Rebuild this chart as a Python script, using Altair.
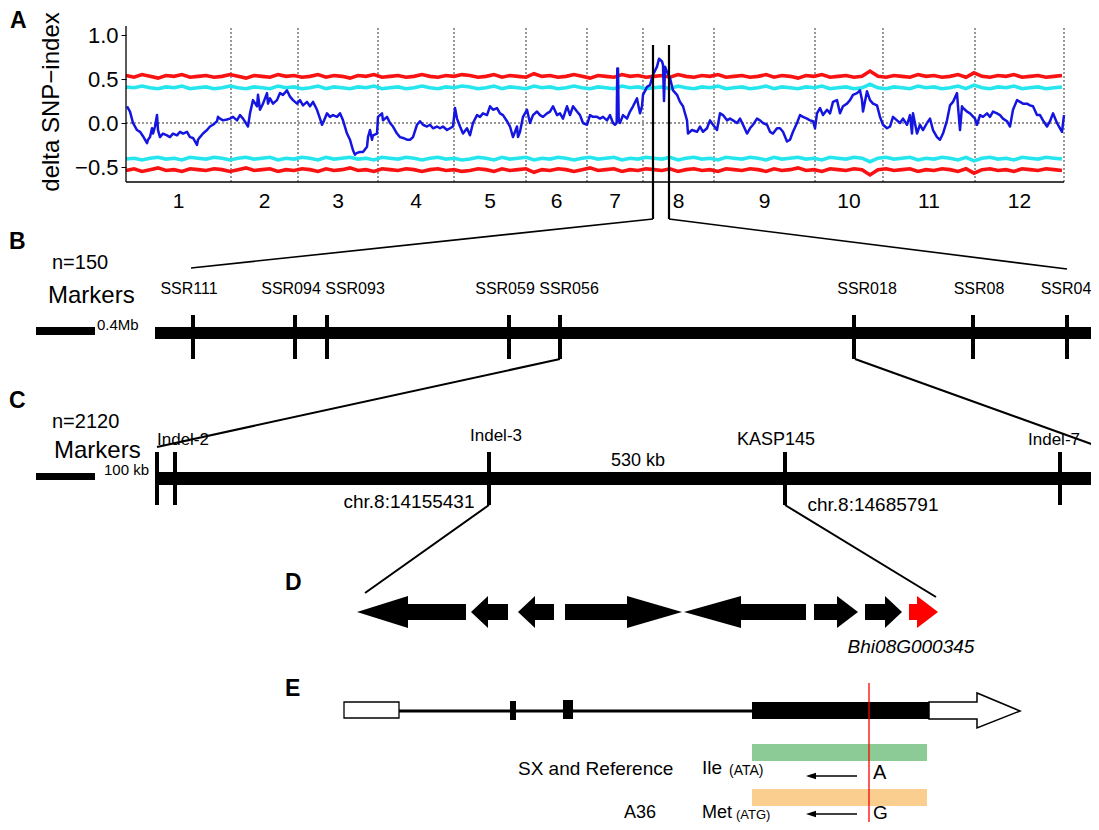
import altair as alt
import pandas as pd

FONT = "Liberation Sans"

# ============ Panel A data (delta SNP-index) ============
chrom_names = ["1", "2", "3", "4", "5", "6", "7", "8", "9", "10", "11", "12"]
chrom_len_mb = [105, 67, 80, 76, 72, 61, 56, 71, 101, 68, 92, 89]

# (cumulative position in Mb, delta SNP-index)
delta_snp_index = [
    (1, 0.19), (4, 0.13), (7, 0.00), (11, -0.08), (14, -0.10), (17, -0.15), (21, -0.23), (22, -0.19),
    (24, -0.16), (26, -0.06), (27, -0.12), (29, -0.04), (31, 0.09), (32, -0.08), (34, -0.16), (37, -0.12),
    (41, -0.14), (44, -0.16), (47, -0.12), (51, -0.14), (54, -0.10), (57, -0.12), (61, -0.10), (64, -0.16),
    (67, -0.17), (71, -0.25), (72, -0.19), (74, -0.16), (77, -0.12), (81, -0.08), (84, -0.04), (87, -0.02),
    (91, 0.02), (92, 0.07), (94, 0.05), (97, 0.03), (101, 0.04), (104, 0.05), (107, 0.07), (111, 0.03),
    (114, 0.09), (117, 0.05), (121, -0.02), (122, -0.04), (124, 0.11), (127, 0.26), (131, 0.19), (132, 0.32),
    (134, 0.15), (137, 0.22), (141, 0.34), (142, 0.22), (144, 0.28), (147, 0.22), (151, 0.26), (154, 0.34),
    (157, 0.32), (161, 0.37), (164, 0.30), (167, 0.26), (171, 0.22), (174, 0.26), (177, 0.20), (181, 0.24),
    (184, 0.19), (187, 0.24), (191, 0.15), (194, 0.05), (196, -0.02), (197, 0.00), (201, 0.11), (204, 0.07),
    (207, 0.09), (211, 0.07), (214, 0.11), (217, 0.03), (221, -0.12), (224, -0.19), (227, -0.31), (229, -0.36),
    (231, -0.34), (234, -0.33), (237, -0.33), (241, -0.27), (242, -0.16), (244, -0.08), (246, -0.19), (247, -0.14),
    (251, -0.12), (252, 0.07), (256, 0.11), (257, 0.03), (261, 0.07), (264, 0.00), (267, -0.04), (271, -0.12),
    (274, -0.16), (277, -0.17), (281, -0.19), (284, -0.19), (287, -0.16), (291, -0.02), (294, 0.02), (297, -0.02),
    (301, -0.04), (304, -0.02), (307, -0.06), (311, -0.04), (314, -0.06), (317, -0.04), (321, -0.08), (324, -0.06),
    (327, -0.04), (329, 0.17), (331, 0.05), (334, -0.04), (337, -0.12), (341, -0.06), (344, -0.14), (347, 0.00),
    (351, 0.09), (354, 0.07), (357, 0.11), (361, 0.09), (364, 0.19), (367, 0.15), (371, 0.17), (374, 0.11),
    (377, 0.09), (381, 0.02), (384, -0.04), (387, -0.16), (391, -0.04), (392, -0.16), (394, -0.10), (397, 0.07),
    (401, 0.15), (404, 0.00), (407, 0.09), (411, 0.13), (414, 0.09), (417, 0.07), (421, 0.11), (424, 0.13),
    (427, 0.19), (431, 0.09), (434, 0.11), (437, 0.05), (441, 0.19), (444, 0.09), (447, 0.19), (451, 0.13),
    (454, 0.09), (457, 0.00), (461, -0.02), (464, 0.09), (467, 0.07), (471, 0.07), (474, 0.05), (477, 0.07),
    (481, 0.03), (484, 0.09), (487, 0.00), (489, -0.02), (490.7, 0.00), (491.3, 0.62), (492, 0.62), (492.7, 0.03),
    (494, 0.00), (497, 0.09), (501, 0.05), (504, 0.13), (507, 0.19), (511, 0.28), (512, 0.22), (514, 0.11),
    (516, 0.19), (517, 0.32), (521, 0.41), (524, 0.43), (527, 0.55), (531, 0.64), (533, 0.73), (536, 0.70),
    (537, 0.66), (538, 0.25), (539, 0.64), (541, 0.58), (544, 0.51), (547, 0.37), (551, 0.32), (554, 0.24),
    (557, 0.19), (561, 0.03), (562, -0.12), (566, -0.08), (571, -0.10), (574, -0.04), (577, -0.10), (581, -0.06),
    (584, 0.03), (587, -0.02), (591, -0.08), (594, 0.11), (597, 0.09), (601, 0.03), (604, 0.05), (607, 0.03),
    (611, 0.00), (614, 0.05), (617, -0.02), (621, -0.12), (624, -0.06), (627, -0.02), (631, 0.05), (634, 0.03),
    (637, 0.00), (641, -0.02), (644, -0.10), (647, -0.12), (651, -0.06), (654, -0.06), (657, -0.10), (661, -0.21),
    (664, -0.19), (667, -0.10), (671, 0.00), (674, 0.09), (677, 0.07), (681, 0.05), (684, 0.03), (687, 0.02),
    (689, -0.06), (691, 0.11), (694, 0.17), (697, 0.09), (701, 0.15), (704, 0.11), (707, 0.24), (711, 0.26),
    (714, 0.11), (717, 0.19), (721, 0.22), (724, 0.26), (727, 0.32), (731, 0.34), (734, 0.37), (736, 0.26),
    (737, 0.13), (741, 0.36), (744, 0.26), (747, 0.22), (751, 0.20), (754, 0.07), (757, -0.02), (761, -0.06),
    (764, -0.04), (767, 0.07), (771, 0.03), (774, 0.00), (777, 0.05), (781, -0.02), (784, 0.09), (786, -0.12),
    (787, 0.11), (791, -0.12), (794, -0.02), (797, -0.08), (801, 0.00), (804, 0.05), (807, -0.08), (811, -0.16),
    (814, -0.19), (817, -0.12), (821, 0.03), (824, 0.20), (827, 0.24), (831, 0.34), (832, 0.19), (834, -0.08),
    (836, 0.19), (837, 0.17), (841, 0.13), (844, 0.11), (849, 0.05), (851, -0.02), (854, 0.09), (857, 0.07),
    (861, 0.11), (864, 0.07), (867, 0.13), (871, 0.11), (874, 0.09), (877, 0.05), (881, 0.02), (884, -0.04),
    (887, 0.15), (891, 0.26), (894, 0.24), (897, 0.22), (901, 0.22), (904, 0.20), (907, 0.19), (911, 0.09),
    (914, 0.09), (917, 0.03), (921, -0.04), (924, 0.02), (927, 0.11), (931, 0.00), (934, -0.06), (936, -0.10),
    (938, 0.09),
]

# confidence thresholds (upper side; the lower side is the mirror), sampled every 8 Mb
ci_step_mb = 8
ci99_upper = [  # red
    0.54, 0.52, 0.55, 0.53, 0.51, 0.54, 0.53, 0.55, 0.52, 0.53,
    0.54, 0.52, 0.53, 0.55, 0.53, 0.51, 0.54, 0.53, 0.52, 0.55,
    0.53, 0.54, 0.52, 0.53, 0.55, 0.52, 0.54, 0.53, 0.51, 0.54,
    0.53, 0.55, 0.52, 0.53, 0.54, 0.52, 0.53, 0.55, 0.53, 0.52,
    0.54, 0.53, 0.55, 0.54, 0.52, 0.53, 0.55, 0.52, 0.54, 0.53,
    0.52, 0.56, 0.53, 0.54, 0.52, 0.53, 0.55, 0.53, 0.51, 0.54,
    0.53, 0.52, 0.55, 0.53, 0.54, 0.52, 0.53, 0.54, 0.52, 0.55,
    0.53, 0.52, 0.54, 0.53, 0.55, 0.52, 0.53, 0.54, 0.52, 0.53,
    0.55, 0.52, 0.54, 0.53, 0.51, 0.54, 0.53, 0.55, 0.52, 0.53,
    0.54, 0.52, 0.53, 0.59, 0.53, 0.52, 0.54, 0.53, 0.52, 0.55,
    0.53, 0.54, 0.52, 0.53, 0.55, 0.52, 0.57, 0.53, 0.52, 0.54,
    0.53, 0.55, 0.52, 0.53, 0.54, 0.52, 0.53, 0.54,
]
ci95_upper = [  # cyan
    0.41, 0.40, 0.42, 0.40, 0.39, 0.41, 0.40, 0.42, 0.39, 0.40,
    0.41, 0.39, 0.40, 0.42, 0.40, 0.39, 0.41, 0.40, 0.39, 0.42,
    0.40, 0.41, 0.39, 0.40, 0.42, 0.39, 0.41, 0.40, 0.39, 0.41,
    0.40, 0.42, 0.39, 0.40, 0.41, 0.39, 0.40, 0.42, 0.40, 0.39,
    0.41, 0.40, 0.42, 0.41, 0.39, 0.40, 0.42, 0.39, 0.41, 0.40,
    0.39, 0.42, 0.40, 0.41, 0.39, 0.40, 0.42, 0.40, 0.39, 0.41,
    0.40, 0.39, 0.42, 0.40, 0.41, 0.39, 0.40, 0.41, 0.39, 0.42,
    0.40, 0.39, 0.41, 0.40, 0.42, 0.39, 0.40, 0.41, 0.39, 0.40,
    0.42, 0.39, 0.41, 0.40, 0.39, 0.41, 0.40, 0.42, 0.39, 0.40,
    0.41, 0.39, 0.40, 0.44, 0.40, 0.39, 0.41, 0.40, 0.39, 0.42,
    0.40, 0.41, 0.39, 0.40, 0.42, 0.39, 0.43, 0.40, 0.39, 0.41,
    0.40, 0.42, 0.39, 0.40, 0.41, 0.39, 0.40, 0.41,
]
y_ticks = [-0.5, 0.0, 0.5, 1.0]
qtl_window_mb = [527, 543]

# ============ Panel B / C / D / E data (map units of the schematic) ============
b_markers = ["SSR111", "SSR094", "SSR093", "SSR059", "SSR056", "SSR018", "SSR08", "SSR04"]
b_marker_pos = [193, 295, 327, 509, 560, 854, 973, 1067]
b_label_pos = [189, 291, 355, 505, 569, 867, 979, 1066]
b_span = [155, 1097]

c_marker_pos = [157, 175, 489, 785, 1060, 1096]
c_labels = ["Indel-3", "KASP145", "Indel-7"]
c_label_pos = [496, 776, 1054]
c_span = [157, 1097]
c_coords = ["chr.8:14155431", "chr.8:14685791"]

# genes in D: (tail, head base, tip, colour)
d_genes = [
    (466, 408, 357, "black"), (508, 488, 471, "black"), (554, 535, 518, "black"),
    (565, 627, 682, "black"), (806, 741, 684, "black"), (814, 837, 858, "black"),
    (865, 885, 902, "black"), (909, 917, 938, "#ff0000"),
]
d_gene_name = "Bhi08G000345"

# gene model E
e_utr5 = [344, 399]
e_exons = [(510, 516), (563, 573)]
e_cds = [752, 929]
e_utr3 = [929, 977, 1020]
e_snp = 869

# ============ layout constants ============
W, H, M = 1083, 814, 8
A_X0, A_PX_PER_MB = 126, 1.0
A_Y0, A_PX_PER_UNIT = 123, 88.0
A_TOP, A_BOTTOM, A_LABEL = 26, 182, 202


def a_val(px):
    return (A_Y0 - px) / A_PX_PER_UNIT


def a_px(mb):
    return A_X0 + mb * A_PX_PER_MB


XA = alt.Scale(domain=[(M - A_X0) / A_PX_PER_MB, (M + W - A_X0) / A_PX_PER_MB], nice=False, zero=False)
YA = alt.Scale(domain=[a_val(M + H), a_val(M)], nice=False, zero=False)
DX = alt.Scale(domain=[M, M + W], nice=False, zero=False)
DY = alt.Scale(domain=[M, M + H], reverse=True, nice=False, zero=False)

BLUE, RED, CYAN = "#1515e0", "#f81212", "#25e6ee"

Y_AXIS = alt.Axis(values=y_ticks, format=".1f", offset=-(A_X0 - M), domain=False, grid=False,
                  tickSize=5, tickColor="black", tickWidth=1, labelFontSize=22, labelFont=FONT,
                  labelColor="black", labelPadding=3, title=None)

# ---------------- Panel A ----------------
bounds = [0]
for L in chrom_len_mb:
    bounds.append(bounds[-1] + L)
total = bounds[-1]
centers = [(bounds[i] + bounds[i + 1]) / 2 for i in range(12)]

grid_df = pd.DataFrame({"pos": bounds[1:], "y1": a_val(A_BOTTOM), "y2": a_val(A_TOP)})
zero_df = pd.DataFrame({"x1": [0], "x2": [total], "y": [0.0]})
delta_df = pd.DataFrame(delta_snp_index, columns=["pos", "val"])

rows = []
for i, (r, c) in enumerate(zip(ci99_upper, ci95_upper)):
    p = i * ci_step_mb
    rows += [(p, r, "r_hi", RED), (p, -r, "r_lo", RED), (p, c, "c_hi", CYAN), (p, -c, "c_lo", CYAN)]
ci_df = pd.DataFrame(rows, columns=["pos", "val", "series", "color"])

lab_df = pd.DataFrame({"pos": centers, "name": chrom_names, "y": a_val(A_LABEL)})

ax = lambda f: alt.X(f, scale=XA, axis=None)
ay = lambda f: alt.Y(f, scale=YA, axis=Y_AXIS)

grid = alt.Chart(grid_df).mark_rule(color="#333333", strokeWidth=1, strokeDash=[2, 2]).encode(
    x=ax("pos:Q"), y=ay("y1:Q"), y2="y2:Q")
zero = alt.Chart(zero_df).mark_rule(color="#333333", strokeWidth=1, strokeDash=[2, 2]).encode(
    x=ax("x1:Q"), x2="x2:Q", y=ay("y:Q"))
ci = alt.Chart(ci_df).mark_line(strokeWidth=3.6).encode(
    x=ax("pos:Q"), y=ay("val:Q"), detail="series:N", stroke=alt.Stroke("color:N", scale=None))
blue = alt.Chart(delta_df).mark_line(color=BLUE, strokeWidth=2.5, strokeJoin="round").encode(
    x=ax("pos:Q"), y=ay("val:Q"))
axis_df = pd.DataFrame({"x1": [0, 0], "x2": [0, total], "y1": [a_val(A_BOTTOM), a_val(A_BOTTOM)],
                        "y2": [a_val(A_TOP), a_val(A_BOTTOM)]})
axes = alt.Chart(axis_df).mark_rule(color="black", strokeWidth=1.3).encode(
    x=ax("x1:Q"), x2="x2:Q", y=ay("y1:Q"), y2="y2:Q")
chrom_lab = alt.Chart(lab_df).mark_text(font=FONT, fontSize=21, color="black", baseline="middle").encode(
    x=ax("pos:Q"), y=ay("y:Q"), text="name:N")

panel_a = alt.layer(grid, zero, ci, blue, axes, chrom_lab)

# ---------------- Diagram (B-E) ----------------
rects = []  # x1, x2, y1, y2, fill, stroke, sw
rects.append((36, 95, 327, 335, "black", "transparent", 0))
rects.append((b_span[0], b_span[1], 327, 339, "black", "transparent", 0))
rects.append((36, 95, 473, 480, "black", "transparent", 0))
rects.append((c_span[0], c_span[1], 472, 485, "black", "transparent", 0))
rects.append((e_utr5[0], e_utr5[1], 702, 718, "white", "black", 1.3))
rects.append((e_exons[0][0], e_exons[0][1], 701, 720, "black", "transparent", 0))
rects.append((e_exons[1][0], e_exons[1][1], 700, 719, "black", "transparent", 0))
rects.append((e_cds[0], e_cds[1], 702, 719, "black", "transparent", 0))
rects.append((752, 927, 744, 761, "#8cca96", "transparent", 0))
rects.append((752, 927, 789, 806, "#f9ce8e", "transparent", 0))
rect_df = pd.DataFrame(rects, columns=["x1", "x2", "y1", "y2", "fill", "stroke", "sw"])

segs = []  # x1, y1, x2, y2, width, color
for p in qtl_window_mb:
    segs.append((a_px(p), 45, a_px(p), 219, 2.2, "black"))
segs.append((a_px(qtl_window_mb[0]), 219, 191, 268, 1.6, "black"))
segs.append((a_px(qtl_window_mb[1]), 219, 1067, 269, 1.6, "black"))
for p in b_marker_pos:
    segs.append((p, 315, p, 359, 4, "black"))
for p in c_marker_pos:
    segs.append((p, 452, p, 505, 4, "black"))
segs.append((560, 359, 157, 447, 2, "black"))
segs.append((855, 359, 1097, 446, 2, "black"))
segs.append((489, 505, 365, 593, 2, "black"))
segs.append((785, 505, 936, 597, 2, "black"))
segs.append((e_utr5[1], 711, e_cds[0], 711, 3, "black"))
segs.append((e_snp, 683, e_snp, 830, 1.3, "#ff0000"))
segs.append((815, 776, 857, 776, 1.3, "black"))
segs.append((815, 814, 857, 814, 1.3, "black"))
seg_df = pd.DataFrame(segs, columns=["x1", "y1", "x2", "y2", "w", "color"])

poly = []  # id, x, y1, y2, fill, stroke, sw
YC, HEAD, BODY = 612, 16, 8
for gi, (tail, base, tip, col) in enumerate(d_genes):
    gid = f"g{gi}"
    eps = 0.01 if tip > tail else -0.01
    pts = [(tail, BODY), (base - eps, BODY), (base, HEAD), (tip, 0)]
    if tip < tail:
        pts = pts[::-1]
    for x, h in pts:
        poly.append((gid, x, YC - h, YC + h, col, "transparent", 0))
for x, y1, y2 in [(e_utr3[0], 702, 719), (e_utr3[1] - 0.01, 702, 719), (e_utr3[1], 693, 728), (e_utr3[2], 711, 711)]:
    poly.append(("utr3", x, y1, y2, "white", "black", 1.5))
for k, yy in enumerate([776, 814]):
    for x, h in [(806, 0), (816, 3.2)]:
        poly.append((f"ah{k}", x, yy - h, yy + h, "black", "transparent", 0))
poly_df = pd.DataFrame(poly, columns=["id", "x", "y1", "y2", "fill", "stroke", "sw"])

dx = lambda f: alt.X(f, scale=DX, axis=None)
dy = lambda f: alt.Y(f, scale=DY, axis=None)

rect_layer = alt.Chart(rect_df).mark_rect().encode(
    x=dx("x1:Q"), x2="x2:Q", y=dy("y1:Q"), y2="y2:Q",
    fill=alt.Fill("fill:N", scale=None), stroke=alt.Stroke("stroke:N", scale=None),
    strokeWidth=alt.StrokeWidth("sw:Q", scale=None))
seg_layer = alt.Chart(seg_df).mark_rule(strokeCap="butt").encode(
    x=dx("x1:Q"), y=dy("y1:Q"), x2="x2:Q", y2="y2:Q",
    stroke=alt.Stroke("color:N", scale=None), strokeWidth=alt.StrokeWidth("w:Q", scale=None))
poly_layer = alt.Chart(poly_df).mark_area(strokeJoin="miter").encode(
    x=dx("x:Q"), y=dy("y1:Q"), y2="y2:Q", detail="id:N",
    fill=alt.Fill("fill:N", scale=None), stroke=alt.Stroke("stroke:N", scale=None),
    strokeWidth=alt.StrokeWidth("sw:Q", scale=None))

# texts
letters = pd.DataFrame([("A", 10, 21), ("B", 9, 242), ("C", 9, 401), ("D", 285, 583), ("E", 285, 689)],
                       columns=["text", "x", "y"])
left_txt = pd.DataFrame([
    ("n=150", 52, 263, 20), ("Markers", 48, 296, 24), ("0.4Mb", 97, 325, 15),
    ("n=2120", 52, 422, 20), ("Markers", 54, 451, 24), ("100 kb", 104, 470, 15), ("Indel-2", 157, 440, 17),
    ("SX and Reference", 518, 769, 19), ("Ile", 702, 768, 19), ("(ATA)", 729, 771, 14), ("A", 873, 773, 20),
    ("A36", 624, 813, 18), ("Met", 702, 813, 18), ("(ATG)", 736, 815, 13), ("G", 873, 813, 19),
], columns=["text", "x", "y", "size"])
center_rows = [(n, p, 289, 16) for n, p in zip(b_markers, b_label_pos)]
center_rows += [(n, p, yy, s) for n, p, yy, s in zip(c_labels, c_label_pos, [436, 440, 440], [17, 18, 17])]
center_rows += [("530 kb", 638, 461, 18), (c_coords[0], 409, 502, 19), (c_coords[1], 873, 505, 19)]
center_txt = pd.DataFrame(center_rows, columns=["text", "x", "y", "size"])
italic_txt = pd.DataFrame([(d_gene_name, 911, 647, 19)], columns=["text", "x", "y", "size"])
title_txt = pd.DataFrame([("delta SNP\u2212index", 52, 102)], columns=["text", "x", "y"])


def tlayer(df, align="left", weight="normal", style="normal", size=None, angle=0):
    mk = alt.Chart(df).mark_text(align=align, baseline="middle", font=FONT, fontWeight=weight,
                                 fontStyle=style, angle=angle, color="black",
                                 **({"fontSize": size} if size else {}))
    enc = dict(x=dx("x:Q"), y=dy("y:Q"), text="text:N")
    if size is None:
        enc["size"] = alt.Size("size:Q", scale=None, legend=None)
    return mk.encode(**enc)


diagram = alt.layer(
    tlayer(letters, weight="bold", size=23),
    tlayer(left_txt),
    tlayer(center_txt, align="center"),
    tlayer(italic_txt, align="center", style="italic"),
    tlayer(title_txt, align="center", size=24, angle=270),
    rect_layer,
    seg_layer,
    poly_layer,
)

chart = alt.layer(panel_a, diagram).resolve_scale(x="independent", y="independent").properties(
    width=W, height=H, autosize=alt.AutoSizeParams(type="none"), padding=0
).configure_view(stroke=None)

chart.save("out.html", embed_options={"renderer": "svg", "actions": False})
